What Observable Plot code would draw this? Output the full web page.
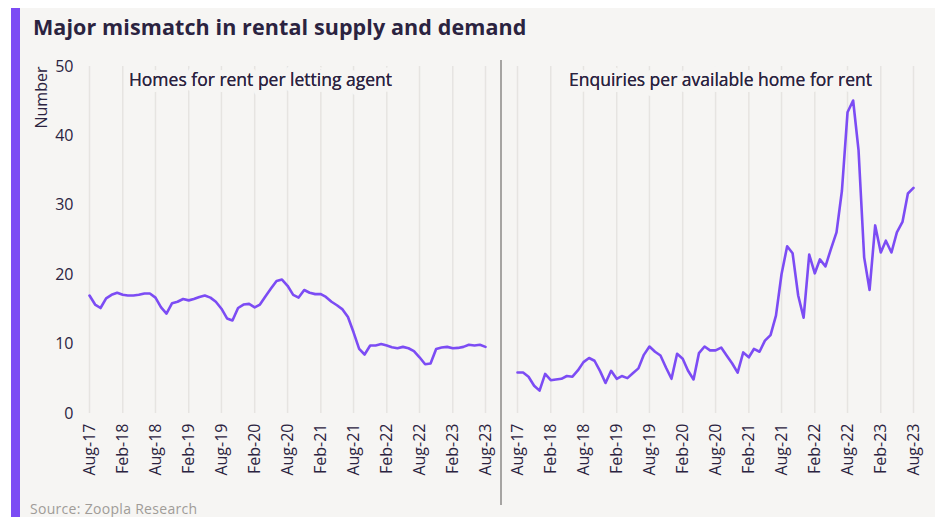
<!DOCTYPE html>
<html><head><meta charset="utf-8">
<script src="https://cdn.jsdelivr.net/npm/d3@7"></script>
<script src="https://cdn.jsdelivr.net/npm/@observablehq/plot@0.6"></script>
<style>
html,body{margin:0;padding:0;background:#fff;}
#wrap{position:relative;width:935px;height:517px;overflow:hidden;background:#fff;font-family:"Open Sans", sans-serif;}
#panel{position:absolute;left:11px;top:8px;right:0;bottom:0;background:#f6f5f3;border-left:9px solid #7c4cf4;}
#title{position:absolute;left:33px;top:12px;font-size:21.5px;font-weight:700;color:#2b2340;white-space:nowrap;letter-spacing:0.1px;}
#chart{position:absolute;left:0;top:45px;}
#divider{position:absolute;left:500px;top:60px;width:1.5px;height:445px;background:#a6a4a2;}
#source{position:absolute;left:30px;top:499px;font-size:14px;color:#a09c98;white-space:nowrap;letter-spacing:0.3px;}
</style></head>
<body>
<div id="wrap">
  <div id="panel"></div>
  <div id="title">Major mismatch in rental supply and demand</div>
  <div id="chart"></div>
  <div id="divider"></div>
  <div id="source">Source: Zoopla Research</div>
</div>
<script>
const startMonth = "2017-08-01";
const endMonth = "2023-08-01";
const panelTitles = ["Homes for rent per letting agent", "Enquiries per available home for rent"];
const homesPerAgent = [17.0,15.7,15.2,16.6,17.1,17.4,17.1,17.0,17.0,17.1,
  17.3,17.3,16.7,15.3,14.4,15.9,16.1,16.5,16.3,16.5,
  16.8,17.0,16.7,16.1,15.1,13.7,13.4,15.2,15.7,15.8,
  15.3,15.7,16.9,18.0,19.1,19.3,18.4,17.1,16.7,17.8,
  17.4,17.2,17.2,16.8,16.1,15.6,15.0,13.9,11.7,9.3,
  8.5,9.8,9.8,10.0,9.8,9.55,9.4,9.6,9.4,9.0,
  8.1,7.1,7.2,9.3,9.5,9.6,9.4,9.45,9.6,9.9,
  9.8,9.9,9.6];
const enquiriesPerHome = [5.9,5.9,5.3,4.0,3.3,5.7,4.8,4.9,5.0,5.4,
  5.3,6.2,7.4,8.0,7.6,6.1,4.4,6.15,5.0,5.4,
  5.1,5.8,6.5,8.45,9.65,8.9,8.36,6.6,5.0,8.6,
  7.9,6.2,4.9,8.7,9.65,9.1,9.1,9.5,8.36,7.2,
  5.9,8.8,8.1,9.3,8.9,10.5,11.3,14.1,20.1,24.1,
  23.1,17.0,13.8,22.9,20.2,22.2,21.2,23.7,26.1,32.1,
  43.4,45.1,37.9,22.5,17.8,27.1,23.2,24.9,23.2,26.1,
  27.6,31.7,32.5];
const yTicks = [0,10,20,30,40,50];
const yLabel = "Number";

const t0 = new Date(startMonth), t1 = new Date(endMonth);
const months = d3.utcMonth.range(t0, d3.utcMonth.offset(t1, 1));
const tickDates = months.filter((d, i) => i % 6 === 0);
const data = [
  ...homesPerAgent.map((v, i) => ({panel: "left", date: months[i], value: v})),
  ...enquiriesPerHome.map((v, i) => ({panel: "right", date: months[i], value: v}))
];
const ink = "#2b2340";
const bg = "#f6f5f3";
const font = "'Open Sans', sans-serif";
const titleStyle = {fx: "panel", text: "t", frameAnchor: "top", dy: 7, fontSize: 17.5, fontWeight: 500, fill: ink};
const halo = {stroke: bg, strokeWidth: 12, strokeLinejoin: "round"};

const chart = Plot.plot({
  width: 935,
  height: 460,
  marginLeft: 88,
  marginRight: 22,
  marginTop: 21,
  marginBottom: 92,
  style: {background: "transparent", fontFamily: font, color: ink},
  fx: {domain: ["left", "right"], padding: 0.075, axis: null},
  x: {type: "utc", domain: [t0, t1]},
  y: {domain: [0, 50]},
  marks: [
    Plot.ruleX(tickDates, {x: d => d, y1: 0, y2: 50, stroke: "#e6e4e1", strokeWidth: 1.5}),
    Plot.text([{panel: "left", t: panelTitles[0]}], {...titleStyle, ...halo, dx: -27}),
    Plot.text([{panel: "right", t: panelTitles[1]}], {...titleStyle, ...halo, dx: 5}),
    Plot.text([{panel: "left", t: panelTitles[0]}], {...titleStyle, dx: -27}),
    Plot.text([{panel: "right", t: panelTitles[1]}], {...titleStyle, dx: 5}),
    Plot.line(data, {x: "date", y: "value", fx: "panel", stroke: "#7c4cf4", strokeWidth: 2.6, curve: "linear"}),
    Plot.axisX({ticks: tickDates, tickFormat: d3.utcFormat("%b-%y"), tickRotate: -90, tickSize: 0, tickPadding: 10,
      fontSize: 16, fill: ink, label: null}),
    Plot.axisY({ticks: yTicks, tickSize: 0, tickPadding: 16, fontSize: 16, fill: ink, label: null}),
    Plot.text([{panel: "left"}], {fx: "panel", text: () => yLabel, frameAnchor: "top-left", rotate: -90,
      textAnchor: "end", dx: -54, fontSize: 16, fill: ink})
  ]
});
document.getElementById("chart").appendChild(chart);
</script>
</body></html>
